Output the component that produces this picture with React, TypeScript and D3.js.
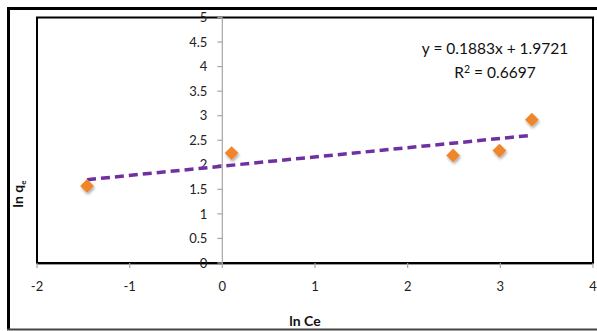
import React from "react";
import * as d3 from "d3";

const lnCe = [-1.46, 0.1, 2.49, 2.99, 3.34];
const lnQe = [1.57, 2.24, 2.19, 2.29, 2.92];
const xTicks = [-2, -1, 0, 1, 2, 3, 4];
const yTicks = [0, 0.5, 1, 1.5, 2, 2.5, 3, 3.5, 4, 4.5, 5];
const slope = 0.1883;
const intercept = 1.9721;
const eqText = "y = 0.1883x + 1.9721";
const r2Value = "0.6697";

const W = 597;
const H = 331;
const left = 37;
const right = 593;
const top = 17.5;
const bottom = 263;

export default function App() {
  const x = d3.scaleLinear().domain([-2, 4]).range([left, right]);
  const y = d3.scaleLinear().domain([0, 5]).range([bottom, top]);
  const xMin = d3.min(lnCe)!;
  const xMax = d3.max(lnCe)!;
  const trend = d3
    .line<number>()
    .x((d) => x(d))
    .y((d) => y(slope * d + intercept))([xMin, xMax]);
  const font = "Lato, 'Open Sans', sans-serif";
  const diamond = d3.symbol().type(d3.symbolDiamond2).size(120)();
  return (
    <svg
      width={W}
      height={H}
      style={{ position: "absolute", left: 0, top: 0, background: "#fff" }}
    >
      <defs>
        <filter id="sh" x="-50%" y="-50%" width="200%" height="200%">
          <feGaussianBlur in="SourceAlpha" stdDeviation="1.6" />
          <feOffset dx="1" dy="2" result="b" />
          <feComponentTransfer>
            <feFuncA type="linear" slope="0.35" />
          </feComponentTransfer>
          <feMerge>
            <feMergeNode />
            <feMergeNode in="SourceGraphic" />
          </feMerge>
        </filter>
      </defs>
      <rect x={0} y={0} width={W} height={H} fill="#fff" />
      {/* outer frame */}
      <line x1={8.5} y1={7} x2={8.5} y2={330} stroke="#000" strokeWidth={3} />
      <line x1={7} y1={8.5} x2={W} y2={8.5} stroke="#000" strokeWidth={3} />
      <line x1={7} y1={329.5} x2={W} y2={329.5} stroke="#444" strokeWidth={2} />
      {/* plot area */}
      <rect
        x={left}
        y={top}
        width={right - left}
        height={bottom - top}
        fill="none"
        stroke="#000"
        strokeWidth={2}
      />
      <line x1={left} y1={bottom + 1.5} x2={right} y2={bottom + 1.5} stroke="#999" strokeWidth={1} />
      {/* y axis at x = 0 */}
      <line x1={x(0)} y1={top} x2={x(0)} y2={bottom} stroke="#a6a6a6" strokeWidth={1.2} />
      {yTicks.map((t) => (
        <g key={"y" + t}>
          <line x1={x(0) - 5} y1={y(t)} x2={x(0)} y2={y(t)} stroke="#a6a6a6" strokeWidth={1.2} />
          <text
            x={x(0) - 15}
            y={y(t)}
            dy="0.36em"
            textAnchor="end"
            fontFamily={font}
            fontSize={13}
            fill="#222"
          >
            {t}
          </text>
        </g>
      ))}
      {xTicks.map((t) => (
        <g key={"x" + t}>
          <line x1={x(t)} y1={bottom} x2={x(t)} y2={bottom + 5} stroke="#a6a6a6" strokeWidth={1.2} />
          <text
            x={x(t)}
            y={286}
            dy="0.36em"
            textAnchor="middle"
            fontFamily={font}
            fontSize={13}
            fill="#222"
          >
            {t}
          </text>
        </g>
      ))}
      {/* trendline */}
      <path
        d={trend || ""}
        fill="none"
        stroke="#7030a0"
        strokeWidth={3.5}
        strokeDasharray="9,5"
      />
      {/* points */}
      {lnCe.map((v, i) => (
        <path
          key={i}
          d={diamond || ""}
          transform={`translate(${x(v)},${y(lnQe[i])})`}
          fill="#f0862a"
          filter="url(#sh)"
        />
      ))}
      {/* equation */}
      <text x={495} y={48} dy="0.36em" textAnchor="middle" fontFamily={font} fontSize={15.5} fill="#111">
        {eqText}
      </text>
      <text x={495} y={72} dy="0.36em" textAnchor="middle" fontFamily={font} fontSize={15.5} fill="#111">
        R<tspan dy="-5" fontSize={10.5}>2</tspan>
        <tspan dy="5"> = {r2Value}</tspan>
      </text>
      {/* axis titles */}
      <text x={305} y={321} dy="0.36em" textAnchor="middle" fontFamily={font} fontSize={14} fontWeight="bold" fill="#111">
        ln Ce
      </text>
      <text
        transform="translate(18,194) rotate(-90)"
        textAnchor="middle"
        dy="0.36em"
        fontFamily={font}
        fontSize={14}
        fontWeight="bold"
        fill="#111"
      >
        ln q<tspan dy="3" fontSize={8}>e</tspan>
      </text>
    </svg>
  );
}
